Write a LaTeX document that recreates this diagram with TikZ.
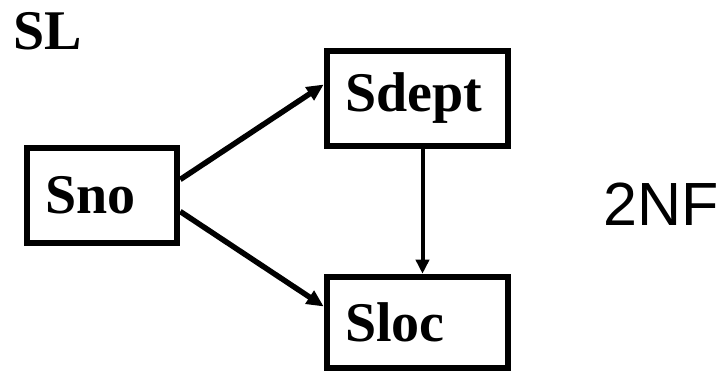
\documentclass[tikz,border=0pt]{standalone}
\usepackage{fontspec}
\setmainfont{Liberation Serif}
\newfontfamily\arialfont{Liberation Sans}
\usetikzlibrary{arrows.meta, positioning}

\begin{document}
\begin{tikzpicture}[
        x=1pt, y=-1pt,
        box/.style={rectangle, draw, line width=6.5pt, minimum height=95pt, inner xsep=18pt, inner ysep=0pt, align=left, font=\fontsize{56}{60}\selectfont\bfseries},
        arrow/.style={-{Triangle[length=17pt, width=15pt]}, line width=5.5pt},
        title/.style={anchor=base west, inner sep=0pt}
    ]
        \useasboundingbox (0,0) rectangle (725,371);

        % Attributes
        \node[box, text width=114pt] (sno) at (102,195.5) {Sno};
        \node[box, text width=145pt] (sdept) at (417.5,98.5) {Sdept};
        \node[box, text width=145pt, minimum height=91pt] (sloc) at (417.5,322.5) {Sloc};

        % Labels
        \node[title, font=\fontsize{56}{60}\selectfont\bfseries] (rel) at (13,50) {SL};
        \node[title, font=\arialfont\fontsize{61}{65}\selectfont] (nf) at (603,226) {2NF};

        % Dependencies
        \draw[arrow] ([yshift=16pt]sno.east) -- ([yshift=14pt]sdept.west);
        \draw[arrow] ([yshift=-16pt]sno.east) -- ([yshift=16pt]sloc.west);
        \draw[arrow, line width=4pt, -{Triangle[length=14pt, width=13pt]}] ([xshift=5pt]sdept.south) -- ([xshift=5pt]sloc.north);
    \end{tikzpicture}
\end{document}
